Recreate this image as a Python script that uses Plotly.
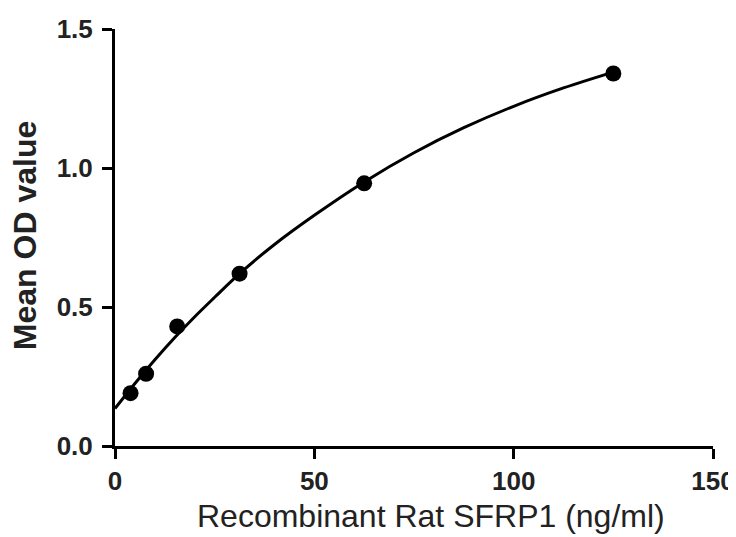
import plotly.graph_objects as go

# Measured standards
conc = [3.9, 7.8, 15.6, 31.25, 62.5, 125]
od = [0.19, 0.26, 0.43, 0.62, 0.945, 1.34]

# Fitted curve
curve_x = [0, 5, 10, 15, 20, 25, 31.25, 40, 50, 62.5, 75, 87.5, 100, 112.5, 125]
curve_y = [0.135, 0.225, 0.31, 0.39, 0.465, 0.535, 0.62, 0.725, 0.83, 0.95,
           1.055, 1.145, 1.222, 1.288, 1.345]

x_ticks = [0, 50, 100, 150]
y_ticks = [0.0, 0.5, 1.0, 1.5]
x_title = "Recombinant Rat SFRP1 (ng/ml)"
y_title = "Mean OD value"

FONT = "Arial, Liberation Sans, sans-serif"

fig = go.Figure()
fig.add_trace(go.Scatter(x=curve_x, y=curve_y, mode="lines",
                         line=dict(color="black", width=3, shape="spline"),
                         hoverinfo="skip", showlegend=False))
fig.add_trace(go.Scatter(x=conc, y=od, mode="markers",
                         marker=dict(color="black", size=16),
                         showlegend=False))

axis_common = dict(showline=True, linecolor="black", linewidth=3,
                   ticks="outside", ticklen=10, tickwidth=3, tickcolor="black",
                   showgrid=False, zeroline=False, automargin=False,
                   tickfont=dict(family=FONT, size=26, color="#222", weight="bold"))

fig.update_xaxes(range=[0, 150], tickvals=x_ticks, ticktext=[str(v) for v in x_ticks],
                 ticklabelstandoff=0, **axis_common)
fig.update_yaxes(range=[0, 1.5], tickvals=y_ticks, ticktext=[f"{v:.1f}" for v in y_ticks],
                 ticklabelstandoff=4, **axis_common)

fig.add_annotation(text=x_title, xref="paper", yref="paper", x=0.528, y=-0.168,
                   xanchor="center", yanchor="middle", showarrow=False,
                   font=dict(family=FONT, size=32, color="#222"))
fig.add_annotation(text=y_title, xref="paper", yref="paper", x=-0.150, y=0.504,
                   xanchor="center", yanchor="middle", showarrow=False, textangle=-90,
                   font=dict(family=FONT, size=32, color="#222", weight="bold"))

# page body has an 8px margin, so the figure is sized to fit the window
fig.update_layout(width=728, height=529, plot_bgcolor="white", paper_bgcolor="white",
                  margin=dict(l=107, r=23, t=21, b=91))

fig.write_html("out.html")
